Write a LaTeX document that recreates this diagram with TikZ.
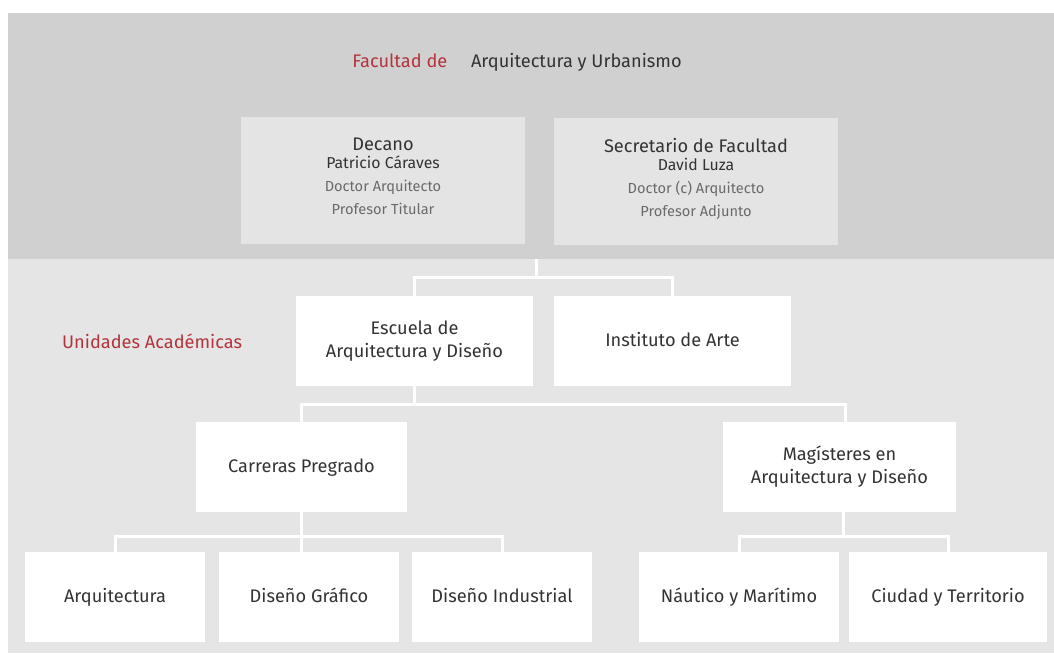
\documentclass[tikz,border=0pt]{standalone}
\usepackage{fontspec}
\setmainfont{Fira Sans}
\definecolor{bandtop}{HTML}{D0D0D0}
\definecolor{bandlow}{HTML}{E5E5E5}
\definecolor{boxgray}{HTML}{E4E4E4}
\definecolor{redtext}{HTML}{B2343C}
\definecolor{darktext}{HTML}{333333}
\definecolor{softtext}{HTML}{6A6A6A}
\newcommand{\PersonName}[1]{{\fontsize{15.8}{17}\selectfont #1}}
\newcommand{\PersonRole}[1]{{\fontsize{14.6}{17}\selectfont\color{softtext} #1}}

\begin{document}
\begin{tikzpicture}[x=1pt, y=-1pt,
    mainfont/.style={font=\fontsize{18.2}{23}\selectfont, text=darktext},
    topbox/.style={mainfont, fill=boxgray, inner sep=0pt, minimum width=284pt,
      minimum height=127pt, align=center, text depth=8pt},
    unitbox/.style={mainfont, fill=white, inner sep=0pt, minimum height=90pt,
      align=center},
    oneline/.style={text height=13pt, text depth=3pt},
    redlabel/.style={font=\fontsize{18.2}{23}\selectfont, text=redtext, inner sep=0pt},
    link/.style={draw=white, line width=3pt}]

    \useasboundingbox (0,0) rectangle (1054,653);
    \fill[bandtop] (8,13) rectangle (1054,259);
    \fill[bandlow] (8,259) rectangle (1054,653);

    \draw(399.8,67) node[redlabel, anchor=base] (facultad) {Facultad de};
    \draw(576.3,67) node[mainfont, inner sep=0pt, anchor=base] (urbanismo)
    {Arquitectura y Urbanismo};
    \draw(62,348.3) node[redlabel, anchor=base west] (unidades) {Unidades Académicas};

    \draw(383,180.5) node[topbox] (decano) {Decano\\[-4.7pt]
      \PersonName{Patricio Cáraves}\\ \PersonRole{Doctor Arquitecto}\\
      \PersonRole{Profesor Titular}};
    \draw(696,181.5) node[topbox] (secretario) {Secretario de Facultad\\[-4.7pt]
      \PersonName{David Luza}\\ \PersonRole{Doctor (c) Arquitecto}\\
      \PersonRole{Profesor Adjunto}};

    \draw(414.5,341) node[unitbox, minimum width=237pt] (escuela)
    {Escuela de\\Arquitectura y Diseño};
    \draw(672.5,341) node[unitbox, oneline, minimum width=237pt] (instituto)
    {Instituto de Arte};

    \draw(301.5,467) node[unitbox, oneline, minimum width=211pt] (carreras)
    {Carreras Pregrado};
    \draw(839.5,467) node[unitbox, minimum width=233pt] (magisteres)
    {Magísteres en\\Arquitectura y Diseño};

    \draw(115,597) node[unitbox, oneline, minimum width=180pt] (arquitectura) {Arquitectura};
    \draw(309,597) node[unitbox, oneline, minimum width=180pt] (grafico) {Diseño Gráfico};
    \draw(502,597) node[unitbox, oneline, minimum width=180pt] (industrial) {Diseño Industrial};
    \draw(739,597) node[unitbox, oneline, minimum width=200pt] (nautico) {Náutico y Marítimo};
    \draw(948,597) node[unitbox, oneline, minimum width=198pt] (ciudad) {Ciudad y Territorio};

    \coordinate (fac) at (536.5,259);
    \coordinate (forkA) at (536.5,277);
    \coordinate (forkB) at (414.5,404);
    \coordinate (forkC) at (302,536.5);
    \coordinate (forkD) at (843.5,536.5);

    \draw[link] (fac) -- (forkA);
    \draw[link] (escuela.north) |- (forkA) -| (instituto.north);
    \draw[link] (escuela.south) -- (forkB);
    \draw[link] (carreras.north) |- (forkB) -| ([xshift=5.5pt]magisteres.north);
    \draw[link] (carreras.south) -- (carreras.south |- grafico.north);
    \draw[link] (arquitectura.north) |- (forkC) -| (industrial.north);
    \draw[link] (forkD |- magisteres.south) -- (forkD);
    \draw[link] (nautico.north) |- (forkD) -| (ciudad.north);

    \end{tikzpicture}
\end{document}
